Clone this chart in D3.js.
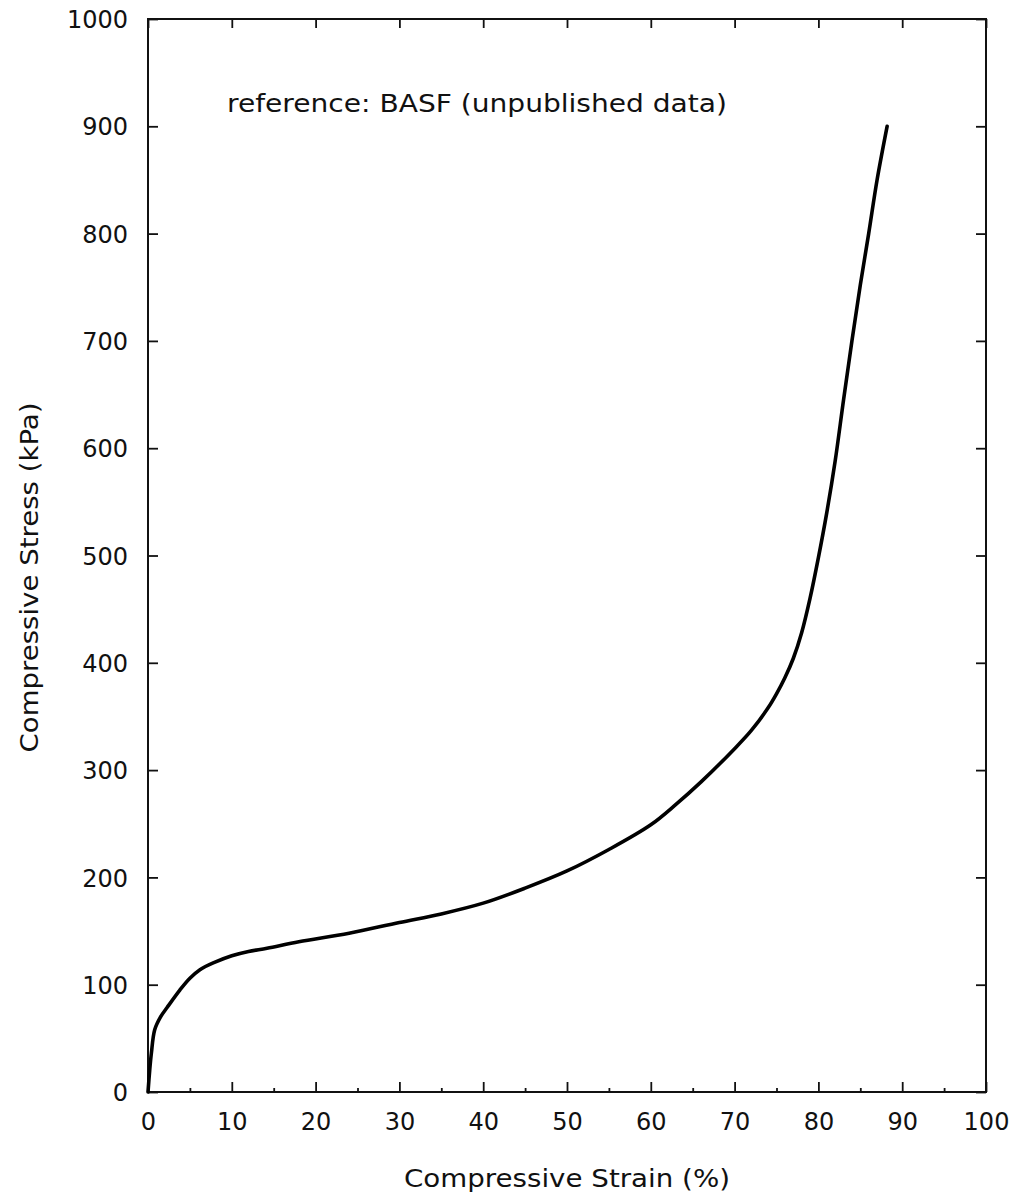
<!DOCTYPE html>
<html>
<head>
<meta charset="utf-8">
<script src="https://cdn.jsdelivr.net/npm/d3@7"></script>
<style>
  html, body { margin: 0; padding: 0; background: #fff; }
  svg { display: block; }
  text { font-family: "DejaVu Sans", sans-serif; fill: #111; }
</style>
</head>
<body>
<svg id="chart" width="1018" height="1198"></svg>
<script>
// Data: compressive strain (%) vs compressive stress (kPa)
const strain = [0, 0.2, 0.4, 0.8, 1.5, 2.3, 3.8, 5, 6.2, 8, 10, 12, 14.2, 18, 24, 30, 35, 40, 45, 50, 55, 60, 63, 66, 70, 72, 74, 75, 76, 77, 78, 79, 80, 81, 82, 83, 84, 85, 86, 87, 88.2];
const stress = [0, 20, 36, 58, 70, 79, 95, 106, 114, 121, 127, 131, 134, 140, 148, 158, 166, 176, 190, 206, 226, 249, 268, 289, 320, 337, 358, 371, 386, 404, 428, 460, 498, 540, 588, 645, 700, 752, 800, 850, 900];
const xTicks = [0, 10, 20, 30, 40, 50, 60, 70, 80, 90, 100];
const xMinor = [5, 15, 25, 35, 45, 55, 65, 75, 85, 95];
const yTicks = [0, 100, 200, 300, 400, 500, 600, 700, 800, 900, 1000];
const xTitle = "Compressive Strain (%)";
const yTitle = "Compressive Stress (kPa)";
const note = "reference: BASF (unpublished data)";

(function () {
const svg = d3.select("#chart");
const L = 148, R = 986, T = 19, B = 1092;
const x = d3.scaleLinear().domain([0, 100]).range([L, R]);
const y = d3.scaleLinear().domain([0, 1000]).range([B, T]);

// Frame
svg.append("rect").attr("x", L).attr("y", T).attr("width", R - L).attr("height", B - T)
  .attr("fill", "none").attr("stroke", "#111").attr("stroke-width", 2);

const fs = 24;
const gBottom = svg.append("g").attr("transform", `translate(0,${B})`)
  .call(d3.axisBottom(x).tickValues(xTicks).tickSize(-10).tickPadding(20).tickFormat(d3.format("d")));
svg.append("g").attr("transform", `translate(0,${T})`)
  .call(d3.axisTop(x).tickValues(xTicks).tickSize(-9).tickFormat(""));
svg.append("g").attr("transform", `translate(0,${B})`)
  .call(d3.axisBottom(x).tickValues(xMinor).tickSize(-4).tickFormat(""));
const gLeft = svg.append("g").attr("transform", `translate(${L},0)`)
  .call(d3.axisLeft(y).tickValues(yTicks).tickSize(-10).tickPadding(20).tickFormat(d3.format("d")));
svg.append("g").attr("transform", `translate(${R},0)`)
  .call(d3.axisRight(y).tickValues(yTicks).tickSize(-10).tickFormat(""));

svg.selectAll(".domain").remove();
svg.selectAll(".tick line").attr("stroke", "#111").attr("stroke-width", 1.8);
svg.selectAll(".tick text").style("font-size", fs + "px").style("font-family", "DejaVu Sans, sans-serif").attr("fill", "#111");
gLeft.selectAll(".tick text").attr("dy", "0.36em");
gBottom.selectAll(".tick text").attr("dy", "0.75em");

// Curve
const pts = strain.map((s, i) => [s, stress[i]]);
svg.append("path").datum(pts)
  .attr("fill", "none").attr("stroke", "#000").attr("stroke-width", 3.6)
  .attr("stroke-linejoin", "round").attr("stroke-linecap", "round")
  .attr("d", d3.line().x(d => x(d[0])).y(d => y(d[1])).curve(d3.curveCatmullRom.alpha(0.5)));

// Annotation
svg.append("text").attr("x", 227).attr("y", 112).style("font-size", "24px")
  .attr("textLength", 500).attr("lengthAdjust", "spacingAndGlyphs").text(note);

// Axis titles
svg.append("text").attr("x", (L + R) / 2).attr("y", 1187).attr("text-anchor", "middle")
  .style("font-size", "24px").attr("textLength", 326).attr("lengthAdjust", "spacingAndGlyphs").text(xTitle);
svg.append("text").attr("transform", `translate(38,${(T + B) / 2 + 22}) rotate(-90)`)
  .attr("text-anchor", "middle").style("font-size", "24px")
  .attr("textLength", 350).attr("lengthAdjust", "spacingAndGlyphs").text(yTitle);
})();
</script>
</body>
</html>
